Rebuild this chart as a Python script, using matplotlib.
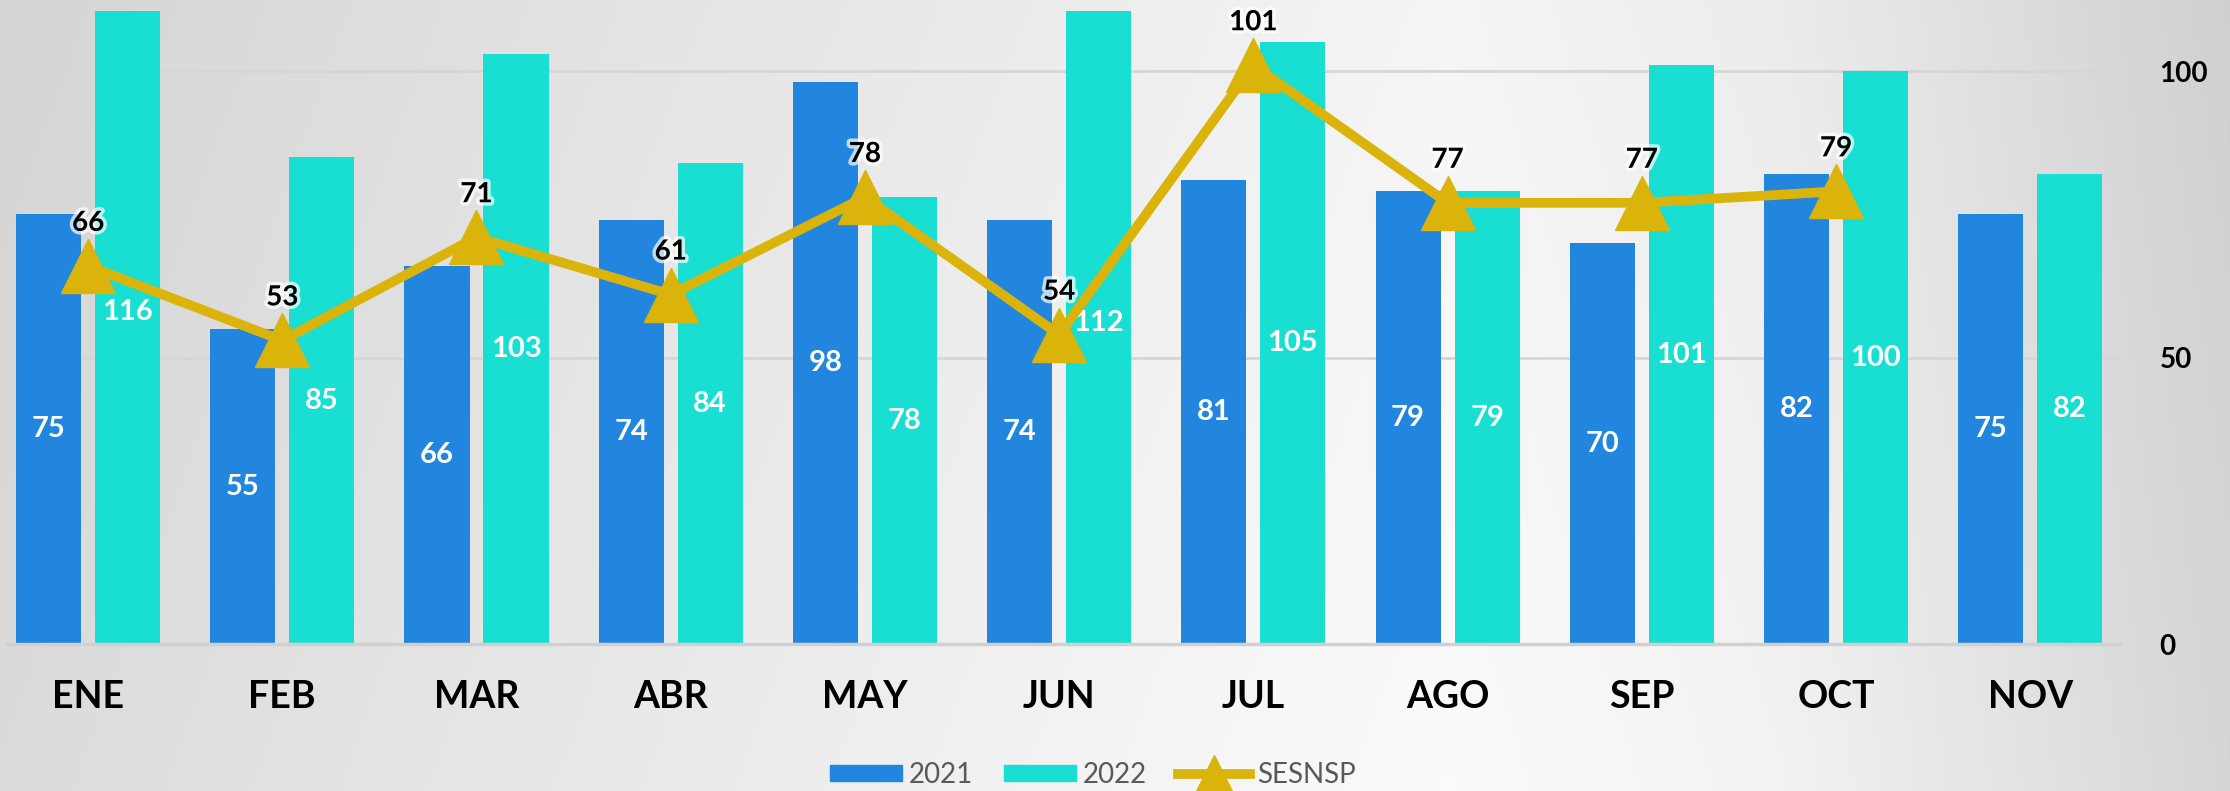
import numpy as np
import matplotlib
matplotlib.use("Agg")
import matplotlib.pyplot as plt
from matplotlib.patches import Patch
from matplotlib.lines import Line2D
import matplotlib.patheffects as pe

plt.rcParams['font.family'] = ['Lato', 'DejaVu Sans']

months = ["ENE", "FEB", "MAR", "ABR", "MAY", "JUN", "JUL", "AGO", "SEP", "OCT", "NOV"]
y2021 = [75, 55, 66, 74, 98, 74, 81, 79, 70, 82, 75]
y2022 = [116, 85, 103, 84, 78, 112, 105, 79, 101, 100, 82]
sesnsp = [66, 53, 71, 61, 78, 54, 101, 77, 77, 79]

C21 = "#2285DE"
C22 = "#18DFD2"
GOLD = "#DAB40B"

fig = plt.figure(figsize=(22.3, 7.91), dpi=100)

# gray horizontal gradient background
bg = fig.add_axes([0, 0, 1, 1], zorder=0)
xs = np.linspace(0, 1, 600)
ys = np.linspace(0, 1, 200)
X, Y = np.meshgrid(xs, ys)
shade = np.interp(X, [0, 0.3, 0.65, 0.8, 1], [0.86, 0.92, 0.985, 0.95, 0.84])
shade = shade - 0.025 * Y
bg.imshow(np.dstack([shade] * 3), aspect="auto", extent=[0, 1, 0, 1], origin="lower")
bg.axis("off")

ax = fig.add_axes([0.003, 0.1855, 0.948, 0.8001], zorder=1)
ax.set_facecolor("none")

x = np.arange(len(months))
w = 0.335
off = 0.2035
ax.bar(x - off, y2021, w, color=C21, zorder=2)
ax.bar(x + off, y2022, w, color=C22, zorder=2)

for xi, v in zip(x, y2021):
    ax.text(xi - off, v / 2, str(v), color="white", fontsize=21, fontweight="bold",
            ha="center", va="center", zorder=3)
for xi, v in zip(x, y2022):
    ax.text(xi + off, v / 2, str(v), color="white", fontsize=21, fontweight="bold",
            ha="center", va="center", zorder=3)

xl = x[:len(sesnsp)]
ax.plot(xl, sesnsp, color=GOLD, lw=7, marker="^", markersize=39, zorder=4,
        solid_joinstyle="miter")
for xi, v in zip(xl, sesnsp):
    ax.annotate(str(v), (xi, v), xytext=(0, 31), textcoords="offset points",
                ha="center", va="center", fontsize=20, fontweight="bold", color="black",
                zorder=5, path_effects=[pe.withStroke(linewidth=5, foreground="white", alpha=0.7)])

ax.set_xlim(-0.419, 10.466)
ax.set_ylim(0, 110.4)
ax.set_yticks([0, 50, 100])
ax.yaxis.tick_right()
ax.tick_params(axis="y", length=0, pad=28, labelsize=20)
ax.set_xticks(x)
ax.set_xticklabels(months, fontsize=27, fontweight="bold")
ax.tick_params(axis="x", length=0, pad=26)
for lab in ax.get_yticklabels():
    lab.set_fontweight("bold")

ax.grid(axis="y", color="#D6D6D6", lw=2, zorder=1)
ax.set_axisbelow(True)
for s in ["top", "left", "right"]:
    ax.spines[s].set_visible(False)
ax.spines["bottom"].set_color("#D0D0D0")
ax.spines["bottom"].set_linewidth(2.5)

handles = [Patch(color=C21), Patch(color=C22),
           Line2D([], [], color=GOLD, lw=7, marker="^", markersize=28)]
fig.legend(handles, ["2021", "2022", "SESNSP"], loc="center", bbox_to_anchor=(0.49, 0.02),
           ncol=3, frameon=False, fontsize=20, handlelength=2.6, handleheight=0.5,
           handletextpad=0.25, columnspacing=1.1, labelcolor="#595959")

fig.savefig("out.png", dpi=100)
